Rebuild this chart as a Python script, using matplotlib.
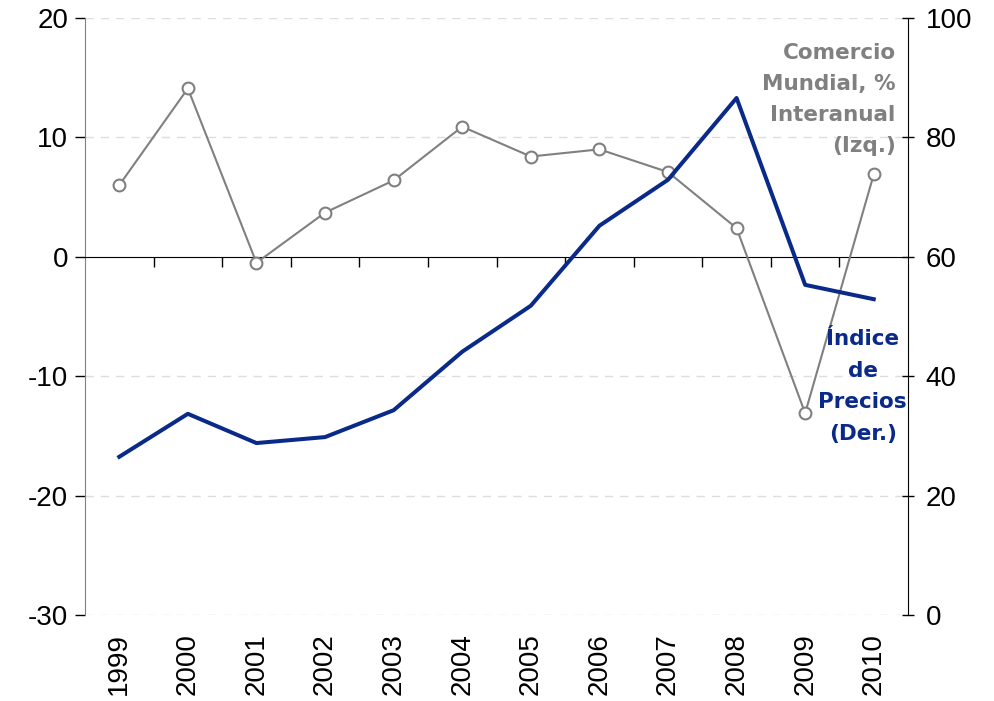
import matplotlib
matplotlib.use("Agg")
import matplotlib.pyplot as plt

years = ['1999', '2000', '2001', '2002', '2003', '2004',
         '2005', '2006', '2007', '2008', '2009', '2010']
# Comercio mundial, % interanual (eje izq.)
comercio = [6.0, 14.1, -0.5, 3.7, 6.4, 10.9, 8.4, 9.0, 7.1, 2.4, -13.1, 6.9]
# Indice de precios (eje der.)
precios = [26.5, 33.7, 28.8, 29.8, 34.3, 44.1, 51.8, 65.2, 72.9, 86.6, 55.3, 52.9]

grey = '#808080'
navy = '#0A2A8A'
plt.rcParams['font.family'] = ['Liberation Sans', 'DejaVu Sans']
plt.rcParams['axes.unicode_minus'] = False

fig = plt.figure(figsize=(9.95, 7.01), dpi=100)
ax = fig.add_axes([0.0854, 0.1227, 0.8272, 0.8516])
x = list(range(len(years)))

## left axis - comercio
ax.set_xlim(-0.5, len(years) - 0.5)
ax.set_ylim(-30, 20)
ax.set_yticks(range(-30, 21, 10))
ax.tick_params(axis='y', labelsize=20, length=7, width=1, color='black', pad=5)
for v in range(-30, 21, 10):
    if v != 0:
        ax.axhline(v, color='#DDDDDD', lw=1, ls=(0, (6, 5)), zorder=0)
ax.plot(x, comercio, color=grey, lw=1.5, marker='o', ms=8.5,
        mfc='white', mec=grey, mew=1.5, zorder=3)

# x axis crosses at zero, ticks between categories
ax.spines['bottom'].set_position(('data', 0))
ax.spines['bottom'].set_color('black')
ax.spines['top'].set_visible(False)
ax.spines['right'].set_visible(False)
ax.spines['left'].set_color(grey)
ax.set_xticks([i + 0.5 for i in x[:-1]])
ax.tick_params(axis='x', length=7, width=1, direction='out', labelbottom=False)

# year labels at the bottom
sec = ax.secondary_xaxis('bottom')
sec.spines['bottom'].set_visible(False)
sec.set_xticks(x)
sec.set_xticklabels(years, rotation=90, fontsize=20)
sec.tick_params(axis='x', length=0, pad=13)

## right axis - precios
ax2 = ax.twinx()
ax2.set_ylim(0, 100)
ax2.set_yticks(range(0, 101, 20))
ax2.tick_params(axis='y', labelsize=20, length=9, width=1, direction='inout', pad=8)
for s in ['top', 'bottom', 'left']:
    ax2.spines[s].set_visible(False)
ax2.spines['right'].set_color('black')
ax2.plot(x, precios, color=navy, lw=2.9, zorder=4)

## labels
ax.text(0.985, 0.958, 'Comercio\nMundial, %\nInteranual\n(Izq.)', transform=ax.transAxes,
        ha='right', va='top', fontsize=15.5, fontweight='bold', color=grey,
        family='DejaVu Sans', linespacing=1.68)
ax2.text(0.945, 0.479, 'Índice\nde\nPrecios\n(Der.)', transform=ax.transAxes,
         ha='center', va='top', fontsize=15.5, fontweight='bold', color=navy,
         family='DejaVu Sans', linespacing=1.72)

fig.savefig('out.png', dpi=100)
